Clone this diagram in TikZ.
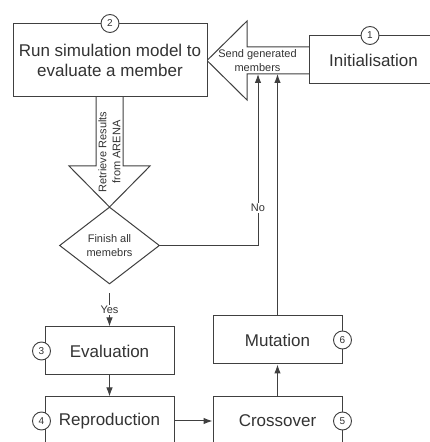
\documentclass[tikz,border=0pt]{standalone}
\usepackage{fontspec}
\setmainfont{Liberation Sans}
\usetikzlibrary{arrows.meta,shapes.geometric}
\definecolor{linec}{HTML}{404040}
\definecolor{txtc}{HTML}{333333}
\begin{document}
\begin{tikzpicture}[x=1pt,y=1pt,
  box/.style={draw=linec, line width=1pt, fill=white, minimum width=129pt, minimum height=48pt, inner sep=0pt, text=txtc, font=\fontsize{17}{20}\selectfont, align=center},
  num/.style={circle, draw=linec, line width=0.9pt, fill=white, minimum size=18pt, inner sep=0pt, text=txtc, font=\fontsize{10}{12}\selectfont},
  small/.style={text=txtc, font=\fontsize{11}{14}\selectfont, align=center, inner sep=1pt},
  arr/.style={draw=linec, line width=1pt, -{Latex[length=9pt,width=6.5pt]}},
  bigarrow/.style={draw=linec, line width=1pt, fill=white, line join=miter}
]
\useasboundingbox (0,0) rectangle (430,442);
% big block arrows
\draw[bigarrow] (309,395) -- (247,395) -- (247,421) -- (207,381.5) -- (247,342) -- (247,368) -- (309,368);
\draw[bigarrow] (96,345) -- (96,276) -- (69,276) -- (109.5,235) -- (150,276) -- (123,276) -- (123,345);
% boxes
\node[box, minimum width=194pt, minimum height=73pt] (sim) at (110,381.5) {Run simulation model to\\evaluate a member};
\node[box] (init) at (373.5,382) {Initialisation};
\node[box] (eval) at (109.5,91) {Evaluation};
\node[box] (repro) at (109.5,21) {Reproduction};
\node[box] (cross) at (277.5,21) {Crossover};
\node[box] (mut) at (277.5,102) {Mutation};
\node[diamond, draw=linec, line width=1pt, fill=white, minimum width=100pt, minimum height=77pt, inner sep=0pt, small] (dia) at (109.5,196.5) {Finish all\\memebrs};
% texts on block arrows
\node[small] (send) at (257.5,381.5) {Send generated\\members};
\node[small, rotate=90] (ret) at (109.5,290) {Retrieve Results\\from ARENA};
% connectors
\coordinate (noin) at (258,368);
\coordinate (mutin) at (277.5,368);
\draw[arr] (dia.east) -| node[pos=0.61, small, fill=white] (nolab) {No} (noin);
\draw[arr] (mut.north) -- (mutin);
\draw[arr, shorten <=9pt] (dia.south) -- node[pos=0.6, small, fill=white] (yeslab) {Yes} (eval.north);
\draw[arr] (eval) -- (repro);
\draw[arr] (repro) -- (cross);
\draw[arr] (cross) -- (mut);
% number circles
\node[num] (n1) at ([xshift=-3.5pt]init.north) {1};
\node[num] (n2) at (sim.north) {2};
\node[num] (n3) at ([xshift=-3pt]eval.west) {3};
\node[num] (n4) at ([xshift=-3pt]repro.west) {4};
\node[num] (n5) at (cross.east) {5};
\node[num] (n6) at (mut.east) {6};
\end{tikzpicture}
\end{document}
